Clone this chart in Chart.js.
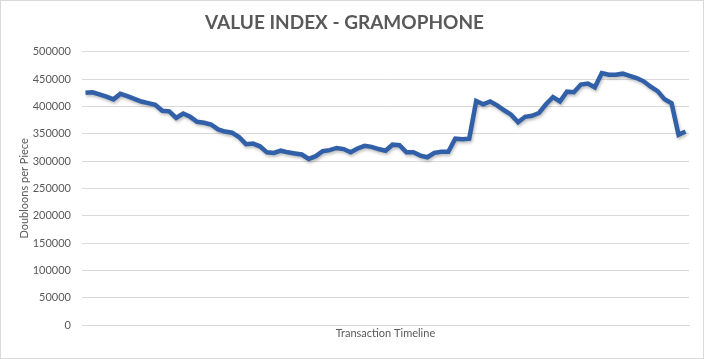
<!DOCTYPE html>
<html>
<head>
<meta charset="utf-8">
<script src="https://cdn.jsdelivr.net/npm/chart.js@4"></script>
<style>
  html, body { margin: 0; padding: 0; background: #fff; }
  #wrap { width: 704px; height: 359px; }
</style>
</head>
<body>
<div id="wrap"><canvas id="chart" width="704" height="359"></canvas></div>
<script>
// values, evenly spaced along the timeline
const indexValues = [
  425000, 426000, 422000, 418000, 413000, 423000, 419000, 414000, 409000, 406000,
  403000, 392000, 391000, 379000, 387000, 381000, 372000, 370000, 367000, 358000,
  354000, 352000, 344000, 331000, 332000, 327000, 316000, 315000, 319000, 316000,
  314000, 312000, 304000, 309000, 318000, 320000, 324000, 322000, 316000, 323000,
  328000, 326000, 322000, 319000, 330000, 329000, 316000, 316000, 310000, 307000,
  315000, 317000, 317000, 341000, 340000, 341000, 410000, 404000, 409000, 402000,
  393000, 385000, 371000, 381000, 383000, 388000, 404000, 417000, 409000, 427000,
  426000, 440000, 442000, 435000, 461000, 458000, 458000, 460000, 456000, 452000,
  446000, 436000, 428000, 413000, 406000, 348000, 354000
];
const timeline = indexValues.map((v, i) => String(i + 1));
const yTicks = [0, 50000, 100000, 150000, 200000, 250000, 300000, 350000, 400000, 450000, 500000];

const grey = '#595959';
const gridGrey = '#d9d9d9';
const fontFamily = 'Lato, "Open Sans", sans-serif';

const frame = {
  id: 'frame',
  beforeDraw(chart) {
    const ctx = chart.ctx;
    ctx.save();
    ctx.fillStyle = '#fff';
    ctx.fillRect(0, 0, chart.width, chart.height);
    ctx.strokeStyle = gridGrey;
    ctx.lineWidth = 1;
    ctx.strokeRect(0.5, 0.5, chart.width - 1, chart.height - 1);
    ctx.restore();
  },
  // soft shadow under the line, like the office chart
  beforeDatasetsDraw(chart) {
    const ctx = chart.ctx;
    ctx.save();
    ctx.shadowColor = 'rgba(0,0,0,0.25)';
    ctx.shadowBlur = 3;
    ctx.shadowOffsetX = 1;
    ctx.shadowOffsetY = 2;
  },
  afterDatasetsDraw(chart) {
    chart.ctx.restore();
  }
};

new Chart(document.getElementById('chart'), {
  type: 'line',
  data: {
    labels: timeline,
    datasets: [{
      label: 'Value Index',
      data: indexValues,
      borderColor: '#3160a8',
      borderWidth: 4.5,
      pointRadius: 0,
      tension: 0,
      fill: false
    }]
  },
  options: {
    responsive: false,
    animation: false,
    layout: { padding: { left: 0, right: 15, top: 0, bottom: 0 } },
    plugins: {
      legend: { display: false },
      tooltip: { enabled: false },
      title: {
        display: true,
        text: 'VALUE INDEX - GRAMOPHONE',
        color: grey,
        font: { family: fontFamily, size: 19, weight: 'bold' },
        padding: { top: 11, bottom: 18 }
      }
    },
    scales: {
      x: {
        type: 'category',
        offset: true,
        grid: { display: false },
        border: { display: true, color: gridGrey, width: 1 },
        ticks: { display: false },
        title: {
          display: true,
          text: 'Transaction Timeline',
          color: grey,
          font: { family: fontFamily, size: 11 },
          padding: { top: 0, bottom: 19 }
        },
        afterFit(scale) { scale.height = 34; }
      },
      y: {
        min: 0,
        max: 500000,
        afterBuildTicks(scale) { scale.ticks = yTicks.map(v => ({ value: v })); },
        grid: { color: gridGrey, drawTicks: false },
        border: { display: false },
        ticks: {
          color: grey,
          padding: 11,
          font: { family: fontFamily, size: 11 },
          callback: v => String(v)
        },
        title: {
          display: true,
          text: 'Doubloons per Piece',
          color: grey,
          font: { family: fontFamily, size: 11 },
          padding: { top: 18, bottom: 0 }
        },
        afterFit(scale) { scale.width = 82; }
      }
    }
  },
  plugins: [frame]
});
</script>
</body>
</html>
